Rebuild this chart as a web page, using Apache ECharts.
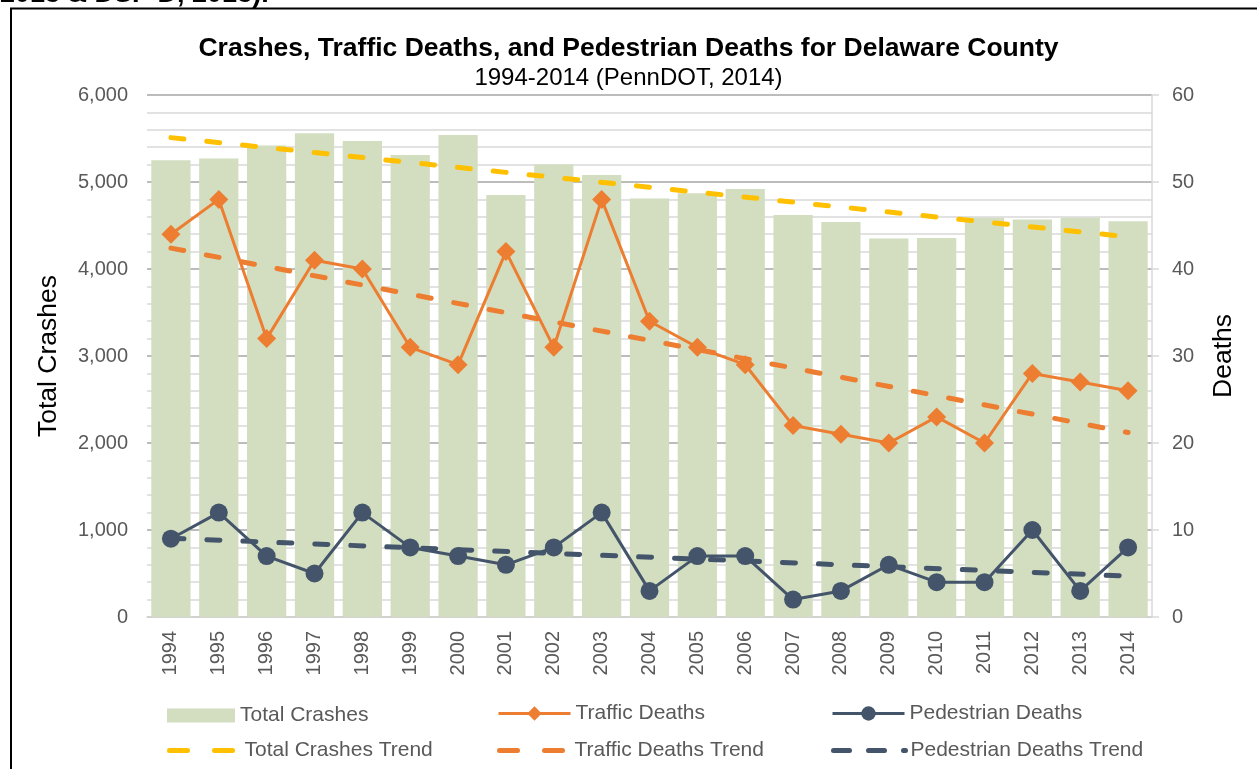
<!DOCTYPE html>
<html>
<head>
<meta charset="utf-8">
<title>Crashes, Traffic Deaths, and Pedestrian Deaths for Delaware County</title>
<script src="https://cdn.jsdelivr.net/npm/echarts@6/dist/echarts.min.js"></script>
<style>
  html, body { margin: 0; padding: 0; background: #fff; }
  #chart { width: 1257px; height: 769px; }
</style>
</head>
<body>
<div id="chart"></div>
<script>
// Years on the category axis
const years = ['1994','1995','1996','1997','1998','1999','2000','2001','2002','2003','2004',
               '2005','2006','2007','2008','2009','2010','2011','2012','2013','2014'];

// Total crashes per year (left axis)
const totalCrashes = [5250, 5270, 5420, 5560, 5470, 5310, 5540, 4850, 5200, 5080, 4810,
                      4870, 4920, 4620, 4540, 4350, 4355, 4590, 4570, 4590, 4550];

// Traffic deaths per year (right axis)
const trafficDeaths = [44, 48, 32, 41, 40, 31, 29, 42, 31, 48, 34,
                       31, 29, 22, 21, 20, 23, 20, 28, 27, 26];

// Pedestrian deaths per year (right axis)
const pedestrianDeaths = [9, 12, 7, 5, 12, 8, 7, 6, 8, 12, 3,
                          7, 7, 2, 3, 6, 4, 4, 10, 3, 8];

// Linear trend lines: value at the first and at the last year
const crashTrendEnds = [5510, 4370];
const trafficTrendEnds = [42.4, 21.2];
const pedestrianTrendEnds = [9.05, 4.7];

// Axis tick values
const crashTicks = { min: 0, max: 6000, step: 1000 };
const deathTicks = { min: 0, max: 60, step: 10 };

// A straight trend drawn between the end values, gaps bridged
function trendSeriesData(ends) {
  return years.map((_, i) => i === 0 ? ends[0] : (i === years.length - 1 ? ends[1] : null));
}

const FONT = '"Liberation Sans", Arial, sans-serif';
const GREY_TEXT = '#595959';
const GREEN = '#d2debf';
const ORANGE = '#ed7d31';
const SLATE = '#44546a';
const GOLD = '#ffc000';

const chart = echarts.init(document.getElementById('chart'), null, { renderer: 'canvas' });

const legendText = { fontFamily: FONT, fontSize: 21, color: GREY_TEXT };

// one legend entry per box so each sits in its own column and row
function legendEntry(left, top, item, w, h) {
  return {
    left: left,
    top: top,
    padding: 0,
    itemWidth: w,
    itemHeight: h,
    selectedMode: false,
    textStyle: legendText,
    data: [item]
  };
}

const trendLegendLine = color => ({ color: color, width: 5, type: [18, 27], cap: 'round' });

const trendLine = (color, width) => ({
  color: color,
  width: width,
  type: [13, 23],
  cap: 'round'
});

chart.setOption({
  animation: false,
  backgroundColor: '#ffffff',
  textStyle: { fontFamily: FONT },
  title: {
    text: 'Crashes, Traffic Deaths, and Pedestrian Deaths for Delaware County',
    subtext: '1994-2014 (PennDOT, 2014)',
    left: 'center',
    top: 35,
    itemGap: 4,
    padding: 0,
    textStyle: { fontFamily: FONT, fontSize: 26.5, fontWeight: 'bold', color: '#000' },
    subtextStyle: { fontFamily: FONT, fontSize: 24, color: '#000' }
  },
  legend: [
    legendEntry(167, 705, { name: 'Total Crashes', icon: 'rect' }, 68, 14),
    legendEntry(497, 703, {
      name: 'Traffic Deaths',
      lineStyle: { color: ORANGE, width: 3 }
    }, 72, 18),
    legendEntry(831, 703, {
      name: 'Pedestrian Deaths',
      lineStyle: { color: SLATE, width: 3 }
    }, 72, 18),
    legendEntry(167, 740, {
      name: 'Total Crashes Trend',
      itemStyle: { opacity: 0 },
      lineStyle: trendLegendLine(GOLD)
    }, 70, 18),
    legendEntry(497, 740, {
      name: 'Traffic Deaths Trend',
      itemStyle: { opacity: 0 },
      lineStyle: trendLegendLine(ORANGE)
    }, 70, 18),
    legendEntry(831, 740, {
      name: 'Pedestrian Deaths Trend',
      itemStyle: { opacity: 0 },
      lineStyle: { color: SLATE, width: 5, type: [16, 19], cap: 'round' }
    }, 72, 18)
  ],
  grid: { left: 147, right: 105, top: 95, bottom: 152, containLabel: false },
  xAxis: {
    type: 'category',
    data: years,
    boundaryGap: true,
    axisLine: { show: true, lineStyle: { color: '#d9d9d9', width: 1.5 } },
    axisTick: { show: false },
    axisLabel: { rotate: 90, margin: 14, fontSize: 20, color: GREY_TEXT, fontFamily: FONT },
    splitLine: { show: false }
  },
  yAxis: [
    {
      type: 'value',
      min: crashTicks.min,
      max: crashTicks.max,
      interval: crashTicks.step,
      name: 'Total Crashes',
      nameLocation: 'middle',
      nameGap: 85,
      nameTextStyle: { fontFamily: FONT, fontSize: 26.5, color: '#000' },
      axisLine: { show: false },
      axisTick: { show: false },
      axisLabel: {
        margin: 19, fontSize: 20, color: GREY_TEXT, fontFamily: FONT,
        formatter: v => v.toLocaleString('en-US')
      },
      splitLine: { show: true, lineStyle: { color: '#a6a6a6', width: 1.5 } },
      minorTick: { show: false, splitNumber: 5 },
      minorSplitLine: { show: true, lineStyle: { color: '#d9d9d9', width: 1.5 } }
    },
    {
      type: 'value',
      position: 'right',
      min: deathTicks.min,
      max: deathTicks.max,
      interval: deathTicks.step,
      name: 'Deaths',
      nameLocation: 'middle',
      nameGap: 58,
      nameTextStyle: { fontFamily: FONT, fontSize: 26.5, color: '#000' },
      axisLine: { show: true, lineStyle: { color: '#d9d9d9', width: 1.5 } },
      axisTick: { show: true, length: 7, lineStyle: { color: '#d9d9d9', width: 1.5 } },
      axisLabel: { margin: 20, fontSize: 20, color: GREY_TEXT, fontFamily: FONT },
      splitLine: { show: false }
    }
  ],
  series: [
    {
      name: 'Total Crashes',
      type: 'bar',
      yAxisIndex: 0,
      data: totalCrashes,
      barCategoryGap: '18%',
      itemStyle: { color: GREEN },
      z: 1
    },
    {
      name: 'Traffic Deaths',
      type: 'line',
      yAxisIndex: 1,
      data: trafficDeaths,
      symbol: 'diamond',
      symbolSize: 19,
      lineStyle: { color: ORANGE, width: 3 },
      itemStyle: { color: ORANGE },
      z: 3
    },
    {
      name: 'Pedestrian Deaths',
      type: 'line',
      yAxisIndex: 1,
      data: pedestrianDeaths,
      symbol: 'circle',
      symbolSize: 18,
      lineStyle: { color: SLATE, width: 3 },
      itemStyle: { color: SLATE },
      z: 3
    },
    {
      name: 'Total Crashes Trend',
      type: 'line',
      yAxisIndex: 0,
      data: trendSeriesData(crashTrendEnds),
      connectNulls: true,
      symbol: 'none',
      lineStyle: trendLine(GOLD, 5),
      itemStyle: { color: GOLD },
      z: 4
    },
    {
      name: 'Traffic Deaths Trend',
      type: 'line',
      yAxisIndex: 1,
      data: trendSeriesData(trafficTrendEnds),
      connectNulls: true,
      symbol: 'none',
      lineStyle: trendLine(ORANGE, 5),
      itemStyle: { color: ORANGE },
      z: 4
    },
    {
      name: 'Pedestrian Deaths Trend',
      type: 'line',
      yAxisIndex: 1,
      data: trendSeriesData(pedestrianTrendEnds),
      connectNulls: true,
      symbol: 'none',
      lineStyle: trendLine(SLATE, 5),
      itemStyle: { color: SLATE },
      z: 4
    }
  ],
  graphic: [
    {
      // tail of the sentence above the figure, clipped by the page edge
      type: 'text',
      left: 0,
      top: -19,
      silent: true,
      style: {
        text: '2013 & DSP D, 2013).',
        fontFamily: FONT,
        fontSize: 27,
        fontWeight: 'bold',
        fill: '#000'
      }
    },
    {
      // frame around the figure
      type: 'rect',
      silent: true,
      shape: { x: 11, y: 8.5, width: 1260, height: 800 },
      style: { fill: null, stroke: '#000', lineWidth: 2 }
    }
  ]
});
</script>
</body>
</html>
